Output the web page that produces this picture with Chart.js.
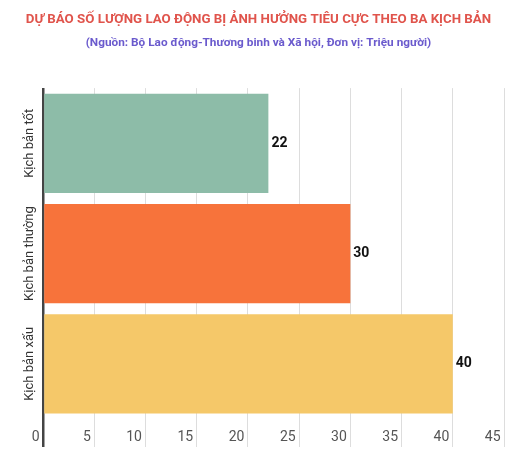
<!DOCTYPE html>
<html>
<head>
<meta charset="utf-8">
<script src="https://cdn.jsdelivr.net/npm/chart.js@4.4.0/dist/chart.umd.min.js"></script>
<style>
  html, body { margin: 0; padding: 0; background: #fff; }
  #wrap { width: 532px; height: 460px; }
</style>
</head>
<body>
<div id="wrap"><canvas id="laborChart"></canvas></div>
<script>
// data
var scenarios = ['Kịch bản tốt', 'Kịch bản thường', 'Kịch bản xấu'];
var workers = [22, 30, 40];
var barColors = ['#8dbca8', '#f7733b', '#f5c869'];
var xTicksMax = 45;
var xTicksStep = 5;

// rotated category labels on the left
var scenarioLabels = {
  id: 'scenarioLabels',
  afterDraw: function(chart) {
    var ctx = chart.ctx;
    var y = chart.scales.y;
    ctx.save();
    ctx.font = '13px Roboto';
    ctx.fillStyle = '#333';
    ctx.textAlign = 'center';
    ctx.textBaseline = 'middle';
    scenarios.forEach(function(name, i) {
      ctx.save();
      ctx.translate(30, y.getPixelForTick(i));
      ctx.rotate(-Math.PI / 2);
      ctx.fillText(name, 0, 0);
      ctx.restore();
    });
    ctx.restore();
  }
};

// value at the end of each bar
var barValues = {
  id: 'barValues',
  afterDatasetsDraw: function(chart) {
    var ctx = chart.ctx;
    var meta = chart.getDatasetMeta(0);
    ctx.save();
    ctx.font = 'bold 14px Roboto';
    ctx.fillStyle = '#111';
    ctx.textAlign = 'left';
    ctx.textBaseline = 'middle';
    meta.data.forEach(function(bar, i) {
      ctx.fillText(String(workers[i]), bar.x + 3, bar.y);
    });
    ctx.restore();
  }
};

var ctx = document.getElementById('laborChart').getContext('2d');
new Chart(ctx, {
  type: 'bar',
  data: {
    labels: scenarios,
    datasets: [{
      data: workers,
      backgroundColor: barColors,
      borderWidth: 0,
      categoryPercentage: 0.9,
      barPercentage: 1.0
    }]
  },
  options: {
    indexAxis: 'y',
    responsive: true,
    maintainAspectRatio: false,
    animation: false,
    layout: { padding: { left: 13, right: 28, top: 0, bottom: 0 } },
    plugins: {
      legend: { display: false },
      tooltip: { enabled: false },
      title: {
        display: true,
        text: 'DỰ BÁO SỐ LƯỢNG LAO ĐỘNG BỊ ẢNH HƯỞNG TIÊU CỰC THEO BA KỊCH BẢN',
        color: '#e0544c',
        font: { family: 'Roboto', size: 13.3, weight: 'bold', lineHeight: 1.2 },
        padding: { top: 12, bottom: 4 }
      },
      subtitle: {
        display: true,
        text: '(Nguồn: Bộ Lao động-Thương binh và Xã hội, Đơn vị: Triệu người)',
        color: '#6a5acd',
        font: { family: 'Roboto', size: 11.8, weight: 'bold', lineHeight: 1.2 },
        padding: { top: 4, bottom: 38 }
      }
    },
    scales: {
      x: {
        min: 0,
        max: xTicksMax,
        border: { display: false },
        grid: {
          color: function(c) { return c.tick && c.tick.value === 0 ? '#444' : '#dddddd'; },
          lineWidth: function(c) { return c.tick && c.tick.value === 0 ? 2.5 : 1; },
          tickLength: 28
        },
        ticks: {
          stepSize: xTicksStep,
          align: 'end',
          padding: -18,
          color: '#555',
          font: { family: 'Roboto', size: 14 },
          callback: function(v) { return v + ' '; }
        },
        afterFit: function(scale) { scale.height = 41; }
      },
      y: {
        grid: { display: false },
        border: { display: false },
        ticks: { display: false },
        afterFit: function(scale) { scale.width = 30; }
      }
    }
  },
  plugins: [scenarioLabels, barValues]
});
</script>
</body>
</html>
